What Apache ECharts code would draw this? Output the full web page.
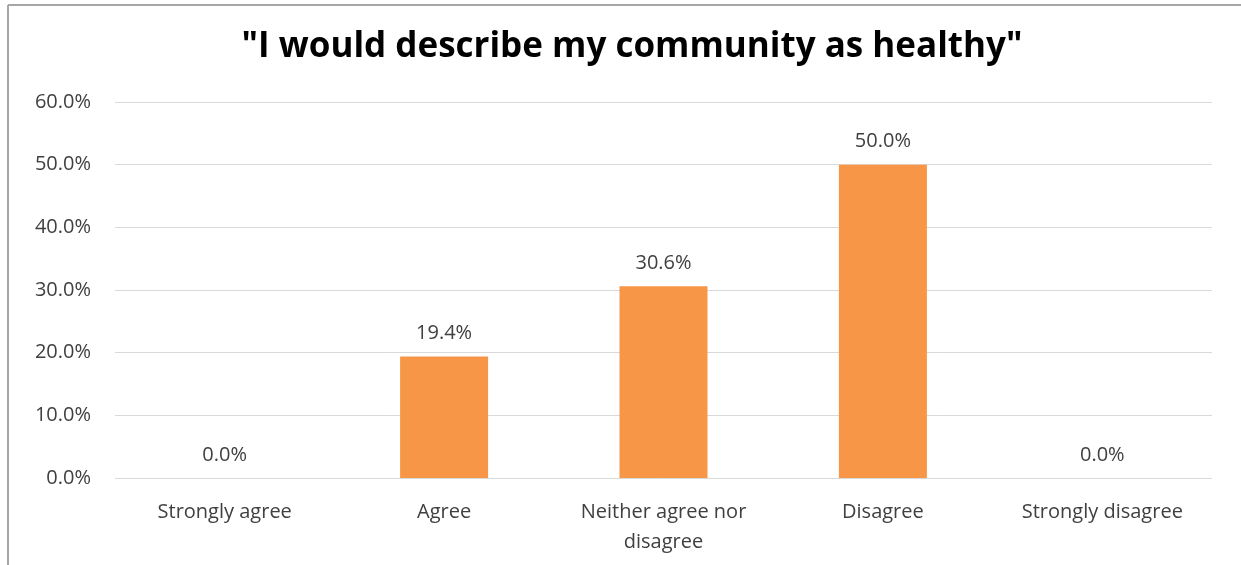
<!DOCTYPE html>
<html>
<head>
<meta charset="utf-8">
<script src="https://cdn.jsdelivr.net/npm/echarts@6/dist/echarts.min.js"></script>
<style>
  html, body { margin: 0; padding: 0; background: #fff; }
  #chart { width: 1241px; height: 565px; }
</style>
</head>
<body>
<div id="chart"></div>
<script>
// 数据
var categories = ['Strongly agree', 'Agree', 'Neither agree nor\ndisagree', 'Disagree', 'Strongly disagree'];
var values = [0.0, 19.4, 30.6, 50.0, 0.0];
var yTicks = [0, 10, 20, 30, 40, 50, 60];

var myChart = echarts.init(document.getElementById('chart'));
var font = '"Open Sans", sans-serif';

var option = {
    backgroundColor: '#fff',
    title: {
        text: '"I would describe my community as healthy"',
        left: 627,
        textAlign: 'center',
        top: 25,
        textStyle: { fontFamily: font, fontSize: 35, fontWeight: 'bold', color: '#000' }
    },
    // 外框线
    graphic: [
        { type: 'line', shape: { x1: 8, y1: 5, x2: 1241, y2: 5 }, style: { stroke: '#a6a6a6', lineWidth: 2 } },
        { type: 'line', shape: { x1: 8, y1: 5, x2: 8, y2: 565 }, style: { stroke: '#a6a6a6', lineWidth: 2 } }
    ],
    grid: { left: 115, right: 29, top: 102, bottom: 87 },
    xAxis: {
        type: 'category',
        data: categories,
        axisLine: { show: false },
        axisTick: { show: false },
        axisLabel: { fontFamily: font, fontSize: 20, color: '#404040', margin: 19, lineHeight: 30, interval: 0 }
    },
    yAxis: {
        type: 'value',
        min: 0,
        max: 60,
        interval: 10,
        axisLine: { show: false },
        axisTick: { show: false },
        splitLine: { lineStyle: { color: '#d9d9d9', width: 1 } },
        axisLabel: {
            fontFamily: font, fontSize: 20, color: '#404040', margin: 24,
            formatter: function (v) { return yTicks.indexOf(v) >= 0 ? v.toFixed(1) + '%' : ''; }
        }
    },
    series: [{
        type: 'bar',
        data: values,
        barWidth: 88,
        itemStyle: { color: '#f79646' },
        label: {
            show: true,
            position: 'top',
            distance: 13,
            fontFamily: font, fontSize: 20, color: '#404040',
            formatter: function (p) { return p.value.toFixed(1) + '%'; }
        }
    }]
};
myChart.setOption(option);
</script>
</body>
</html>
